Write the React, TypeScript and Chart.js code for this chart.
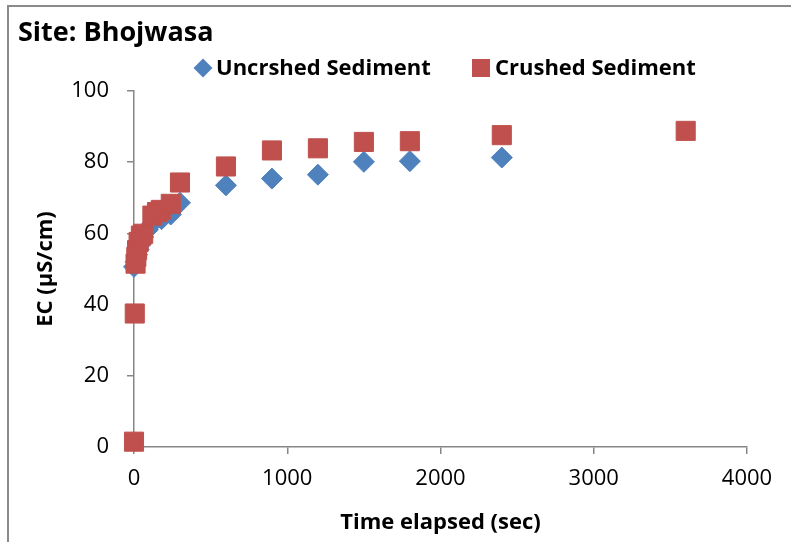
import React, { useEffect, useRef } from "react";
import { Chart, registerables } from "chart.js";

Chart.register(...registerables);

const chartTitle = "Site: Bhojwasa";
const seriesNames = ["Uncrshed Sediment", "Crushed Sediment"];
const xTitle = "Time elapsed (sec)";
const yTitle = "EC (µS/cm)";

const uncrushedTime = [0, 10, 20, 30, 45, 60, 90, 120, 180, 240, 300, 600, 900, 1200, 1500, 1800, 2400];
const uncrushedEC = [50.6, 52.0, 54.0, 55.5, 57.0, 59.0, 61.0, 62.8, 64.0, 65.3, 68.6, 73.5, 75.4, 76.5, 80.1, 80.3, 81.3];

const crushedTime = [0, 5, 10, 15, 20, 30, 45, 60, 120, 150, 175, 240, 300, 600, 900, 1200, 1500, 1800, 2400, 3600];
const crushedEC = [1.5, 37.5, 51.5, 53.4, 55.3, 57.6, 59.4, 59.9, 65.0, 66.0, 66.6, 68.3, 74.3, 78.8, 83.3, 83.9, 85.7, 85.9, 87.6, 88.8];

const xTicks = [0, 1000, 2000, 3000, 4000];
const yTicks = [0, 20, 40, 60, 80, 100];

const BLUE = "#4F81BD";
const RED = "#C0504D";
const AXIS = "#868686";
const FONT = "'Open Sans', Lato, sans-serif";

const headerPlugin = {
  id: "header",
  afterDraw(chart: any) {
    const ctx = chart.ctx;
    ctx.save();
    ctx.fillStyle = "#000";
    ctx.textBaseline = "middle";
    ctx.textAlign = "left";
    ctx.font = `bold 27px ${FONT}`;
    ctx.fillText(chartTitle, 18, 33);

    ctx.font = `bold 22px ${FONT}`;
    // legend item 1: diamond
    ctx.fillStyle = BLUE;
    ctx.beginPath();
    ctx.moveTo(203 - 9.5, 68);
    ctx.lineTo(203, 68 - 9.5);
    ctx.lineTo(203 + 9.5, 68);
    ctx.lineTo(203, 68 + 9.5);
    ctx.closePath();
    ctx.fill();
    ctx.fillStyle = "#000";
    ctx.fillText(seriesNames[0], 216, 68.5);
    // legend item 2: square
    ctx.fillStyle = RED;
    ctx.fillRect(472, 59, 18, 18);
    ctx.fillStyle = "#000";
    ctx.fillText(seriesNames[1], 495, 68.5);
    ctx.restore();
  },
};

export default function App() {
  const ref = useRef<HTMLCanvasElement>(null);
  useEffect(() => {
    document.body.style.margin = "0";
    const canvas = ref.current!;
    const chart = new Chart(canvas, {
      type: "scatter",
      data: {
        datasets: [
          {
            label: seriesNames[0],
            data: uncrushedTime.map((t, i) => ({ x: t, y: uncrushedEC[i] })),
            pointStyle: "rectRot",
            pointRadius: 10.5,
            pointHoverRadius: 10.5,
            backgroundColor: BLUE,
            borderColor: BLUE,
            borderWidth: 1,
            order: 2,
            clip: false,
          },
          {
            label: seriesNames[1],
            data: crushedTime.map((t, i) => ({ x: t, y: crushedEC[i] })),
            pointStyle: "rect",
            pointRadius: 13.5,
            pointHoverRadius: 13.5,
            backgroundColor: RED,
            borderColor: RED,
            borderWidth: 1,
            order: 1,
            clip: false,
          },
        ],
      },
      options: {
        responsive: false,
        animation: false,
        events: [],
        layout: { padding: { left: 0, right: 44, top: 91, bottom: 0 } },
        plugins: {
          legend: { display: false },
          title: { display: false },
          tooltip: { enabled: false },
        },
        scales: {
          x: {
            type: "linear",
            min: 0,
            max: 4000,
            afterBuildTicks: (s: any) => {
              s.ticks = xTicks.map((v) => ({ value: v }));
            },
            afterFit: (s: any) => {
              s.height = 542 - 447;
            },
            grid: {
              display: true,
              drawOnChartArea: false,
              drawTicks: true,
              tickLength: 7,
              color: AXIS,
              lineWidth: 1.5,
            },
            border: { color: AXIS, width: 1.5 },
            ticks: {
              color: "#000",
              font: { family: FONT, size: 22 },
              padding: 12,
              maxRotation: 0,
              callback: (v: any) => String(v),
            },
            title: {
              display: true,
              text: xTitle,
              color: "#000",
              font: { family: FONT, size: 22, weight: "bold" },
              padding: { top: 0, bottom: 6 },
            },
          },
          y: {
            type: "linear",
            min: 0,
            max: 100,
            afterBuildTicks: (s: any) => {
              s.ticks = yTicks.map((v) => ({ value: v }));
            },
            afterFit: (s: any) => {
              s.width = 134;
            },
            grid: {
              display: true,
              drawOnChartArea: false,
              drawTicks: true,
              tickLength: 7,
              color: AXIS,
              lineWidth: 1.5,
            },
            border: { color: AXIS, width: 1.5 },
            ticks: {
              color: "#000",
              font: { family: FONT, size: 22 },
              padding: 18,
              callback: (v: any) => String(v),
            },
            title: {
              display: true,
              text: yTitle,
              color: "#000",
              font: { family: FONT, size: 22, weight: "bold" },
              padding: { top: 33, bottom: 0 },
            },
          },
        },
      },
      plugins: [headerPlugin],
    } as any);
    return () => chart.destroy();
  }, []);

  return (
    <div style={{ position: "relative", width: 791, height: 542, background: "#fff", overflow: "hidden" }}>
      <canvas ref={ref} width={791} height={542} style={{ position: "absolute", left: 0, top: 0 }} />
      <div
        style={{
          position: "absolute",
          left: 7,
          top: 5,
          width: 800,
          height: 600,
          borderLeft: "2px solid #8a8a8a",
          borderTop: "2px solid #8a8a8a",
          pointerEvents: "none",
        }}
      />
    </div>
  );
}
